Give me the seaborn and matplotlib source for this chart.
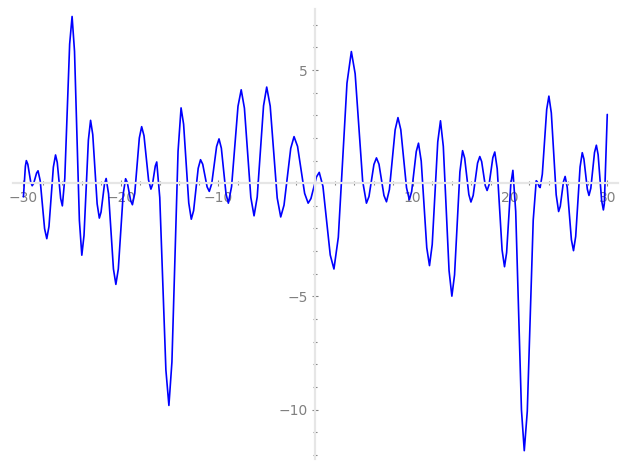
import matplotlib
matplotlib.use("Agg")
import matplotlib.pyplot as plt
from matplotlib.ticker import MultipleLocator, FuncFormatter
import pandas as pd
import seaborn as sns

# points along the curve (turning points plus flank points)
x_pts = [-30.0, -29.8, -29.7, -29.55, -29.25, -29.1, -28.95, -28.65, -28.5, -28.275,
         -27.825, -27.6, -27.375, -26.925, -26.7, -26.525, -26.175, -26.0, -25.75, -25.25,
         -25.0, -24.75, -24.25, -24.0, -23.775, -23.325, -23.1, -22.875, -22.425, -22.2,
         -22.025, -21.675, -21.5, -21.25, -20.75, -20.5, -20.25, -19.75, -19.5, -19.325,
         -18.975, -18.8, -18.56, -18.09, -17.85, -17.61, -17.14, -16.9, -16.75, -16.45,
         -16.3, -15.99, -15.36, -15.05, -14.74, -14.11, -13.8, -13.54, -13.01, -12.75,
         -12.51, -12.04, -11.8, -11.575, -11.125, -10.9, -10.65, -10.15, -9.9, -9.66,
         -9.18, -8.94, -8.61, -7.95, -7.62, -7.29, -6.63, -6.3, -5.975, -5.325,
         -5.0, -4.64, -3.92, -3.56, -3.22, -2.53, -2.19, -1.83, -1.1, -0.74,
         -0.455, 0.115, 0.4, 0.78, 1.53, 1.91, 2.36, 3.25, 3.7, 4.09,
         4.86, 5.25, 5.51, 6.02, 6.28, 6.54, 7.05, 7.31, 7.61, 8.2,
         8.49, 8.78, 9.37, 9.66, 9.9, 10.37, 10.6, 10.88, 11.45, 11.73,
         12.01, 12.58, 12.86, 13.15, 13.74, 14.03, 14.305, 14.855, 15.13, 15.345,
         15.775, 15.99, 16.22, 16.67, 16.9, 17.09, 17.46, 17.65, 17.85, 18.24,
         18.44, 18.69, 19.19, 19.44, 19.655, 20.085, 20.3, 20.59, 21.18, 21.47,
         21.78, 22.39, 22.7, 22.8, 23.0, 23.1, 23.325, 23.775, 24.0, 24.25,
         24.75, 25.0, 25.17, 25.5, 25.67, 25.885, 26.315, 26.53, 26.755, 27.205,
         27.43, 27.6, 27.95, 28.12, 28.31, 28.69, 28.88, 29.06, 29.42, 29.6,
         29.7, 30.0]
y_pts = [-0.6, 0.75, 1.0, 0.84, 0.05, -0.11, -0.01, 0.45, 0.55, 0.11,
         -2.01, -2.45, -1.91, 0.71, 1.25, 0.92, -0.67, -1.0, 0.22, 6.15,
         7.37, 5.83, -1.64, -3.18, -2.31, 1.91, 2.78, 2.15, -0.91, -1.54,
         -1.28, -0.05, 0.21, -0.47, -3.79, -4.47, -3.79, -0.48, 0.2, 0.03,
         -0.78, -0.95, -0.45, 2.0, 2.5, 2.1, 0.14, -0.26, -0.08, 0.76,
         0.94, -0.63, -8.25, -9.82, -7.9, 1.41, 3.33, 2.61, -0.87, -1.59,
         -1.21, 0.66, 1.04, 0.84, -0.16, -0.36, -0.02, 1.62, 1.96, 1.55,
         -0.47, -0.88, -0.15, 3.4, 4.13, 3.32, -0.63, -1.44, -0.61, 3.42,
         4.25, 3.41, -0.65, -1.49, -0.97, 1.54, 2.06, 1.63, -0.45, -0.88,
         -0.68, 0.28, 0.48, -0.14, -3.17, -3.79, -2.39, 4.42, 5.82, 4.84,
         0.1, -0.88, -0.59, 0.83, 1.12, 0.84, -0.54, -0.82, -0.28, 2.36,
         2.9, 2.37, -0.2, -0.73, -0.36, 1.4, 1.77, 0.98, -2.85, -3.64,
         -2.71, 1.83, 2.76, 1.63, -3.86, -4.99, -4.05, 0.5, 1.44, 1.11,
         -0.5, -0.83, -0.54, 0.89, 1.18, 0.96, -0.1, -0.32, -0.07, 1.13,
         1.38, 0.64, -2.95, -3.69, -3.07, -0.05, 0.57, -1.24, -10.01, -11.82,
         -10.08, -1.63, 0.11, 0.07, -0.15, -0.19, 0.4, 3.26, 3.85, 3.11,
         -0.51, -1.25, -1.02, 0.07, 0.3, -0.18, -2.5, -2.98, -2.35, 0.72,
         1.35, 1.07, -0.26, -0.54, -0.22, 1.36, 1.68, 1.26, -0.76, -1.18,
         -0.9, 3.04]

df = pd.DataFrame({"x": x_pts, "y": y_pts})

sns.set_style("white")
fig = plt.figure(figsize=(6.27, 4.69), dpi=100)
ax = fig.add_axes([0.0203, 0.0207, 0.9653, 0.9601])

sns.lineplot(data=df, x="x", y="y", sort=False, color="#0000ff", linewidth=1.2, ax=ax)

ax.set_xlim(-31.1, 31.1)
ax.set_ylim(-12.2, 7.7)

# axes crossing at the origin
for s in ["right", "top"]:
    ax.spines[s].set_visible(False)
for s in ["left", "bottom"]:
    ax.spines[s].set_position(("data", 0))
    ax.spines[s].set_color("#e6e6e6")
    ax.spines[s].set_linewidth(1.6)

ax.xaxis.set_major_locator(MultipleLocator(10))
ax.xaxis.set_minor_locator(MultipleLocator(2))
ax.yaxis.set_major_locator(MultipleLocator(5))
ax.yaxis.set_minor_locator(MultipleLocator(1))
hide_zero = FuncFormatter(lambda v, p: "" if abs(v) < 1e-9 else "%d" % v if v >= 0 else "\u2212%d" % -v)
ax.xaxis.set_major_formatter(hide_zero)
ax.yaxis.set_major_formatter(hide_zero)

ax.tick_params(which="both", direction="inout", color="#808080", width=0.8,
               labelcolor="#808080", labelsize=10, bottom=True, left=True)
ax.tick_params(which="major", length=4)
ax.tick_params(which="minor", length=3)
ax.set_xlabel("")
ax.set_ylabel("")

plt.savefig("out.png", dpi=100)
